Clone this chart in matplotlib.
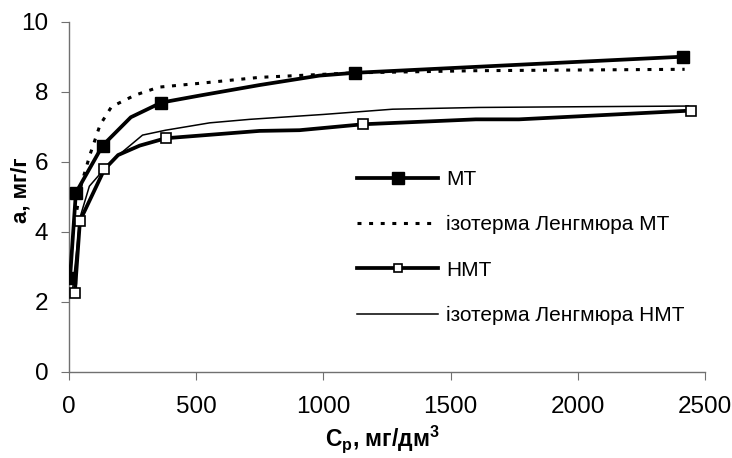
import matplotlib
matplotlib.use('Agg')
import matplotlib.pyplot as plt

plt.rcParams['font.family'] = ['Liberation Sans', 'DejaVu Sans']
plt.rcParams['mathtext.fontset'] = 'custom'
plt.rcParams['mathtext.rm'] = 'Liberation Sans'
plt.rcParams['mathtext.bf'] = 'Liberation Sans:bold'

# experimental isotherm, МТ (markers only on measured points)
c_mt = [4, 27, 132, 243, 363, 514, 749, 984, 1124, 2412]
a_mt = [2.67, 5.11, 6.46, 7.27, 7.69, 7.89, 8.19, 8.46, 8.54, 9.0]
c_mt_mark = [4, 27, 132, 363, 1124, 2412]
a_mt_mark = [2.67, 5.11, 6.46, 7.69, 8.54, 9.0]

# Langmuir isotherm, МТ
c_lmt = [23, 50, 82, 122, 167, 259, 353, 514, 749, 1125, 1600, 2000, 2420]
a_lmt = [4.3, 5.4, 6.19, 7.05, 7.57, 7.9, 8.13, 8.24, 8.41, 8.54, 8.6, 8.62, 8.64]

# experimental isotherm, НМТ
c_hmt = [23, 43, 139, 193, 278, 380, 749, 906, 1157, 1599, 1769, 2444]
a_hmt = [2.26, 4.31, 5.78, 6.19, 6.46, 6.67, 6.88, 6.9, 7.07, 7.21, 7.21, 7.46]
c_hmt_mark = [23, 43, 139, 380, 1157, 2444]
a_hmt_mark = [2.26, 4.31, 5.78, 6.67, 7.07, 7.46]

# Langmuir isotherm, НМТ
c_lhmt = [15, 43, 80, 135, 187, 289, 380, 553, 710, 1000, 1272, 1612, 2000, 2435]
a_lhmt = [2.4, 4.4, 5.3, 5.76, 6.14, 6.76, 6.9, 7.11, 7.21, 7.35, 7.5, 7.55, 7.57, 7.59]

fig = plt.figure(figsize=(7.32, 4.58), dpi=100)
ax = fig.add_axes([69/732, 1-371.7/458, (705-69)/732, (371.7-21.7)/458])

dots = (0, (1.3, 2.5))
lw_thick = 2.7

ax.plot(c_mt, a_mt, c='black', lw=lw_thick, zorder=4)
ax.plot(c_mt_mark, a_mt_mark, ls='none', marker='s', ms=8, mfc='black', mec='black', zorder=5)
ax.plot(c_lmt, a_lmt, c='black', lw=2.2, ls=dots, zorder=3)
ax.plot(c_hmt, a_hmt, c='black', lw=lw_thick, zorder=4)
ax.plot(c_hmt_mark, a_hmt_mark, ls='none', marker='s', ms=6.5, mfc='white', mec='black', mew=1.2, zorder=5)
ax.plot(c_lhmt, a_lhmt, c='black', lw=1.1, zorder=3)

# legend handles
h1, = ax.plot([], [], c='black', lw=lw_thick, marker='s', ms=8, mfc='black')
h2, = ax.plot([], [], c='black', lw=2.2, ls=dots)
h3, = ax.plot([], [], c='black', lw=lw_thick, marker='s', ms=5.5, mfc='white', mew=1.2)
h4, = ax.plot([], [], c='black', lw=1.1)
ax.legend([h1, h2, h3, h4],
          ['МТ', 'ізотерма Ленгмюра МТ', 'НМТ', 'ізотерма Ленгмюра НМТ'],
          loc='upper left', bbox_to_anchor=(357/732, 1-170/458), bbox_transform=fig.transFigure,
          frameon=False, fontsize=15, handlelength=3.9, handletextpad=0.38,
          labelspacing=1.26, borderpad=0, borderaxespad=0, numpoints=1)

ax.set_xlim(0, 2500)
ax.set_ylim(0, 10)
ax.set_xticks(range(0, 2501, 500))
ax.set_yticks(range(0, 11, 2))

for s in ['top', 'right']:
    ax.spines[s].set_visible(False)
for s in ['left', 'bottom']:
    ax.spines[s].set_color('#707070')
    ax.spines[s].set_linewidth(1.0)
ax.tick_params(direction='out', length=5.8, color='#707070', labelsize=17.5)
ax.tick_params(axis='x', pad=12)
ax.tick_params(axis='y', pad=9)

ax.set_xlabel(r'C$_{\mathbf{р}}$, мг/дм$^{\mathbf{3}}$', fontsize=16.5, fontweight='bold')
ax.set_ylabel('a, мг/г', fontsize=16, fontweight='bold')
ax.xaxis.set_label_coords((382-69)/636, (371.7-423)/350)
ax.yaxis.set_label_coords((32-69)/636, 0.52)

fig.savefig('out.png', dpi=100)
